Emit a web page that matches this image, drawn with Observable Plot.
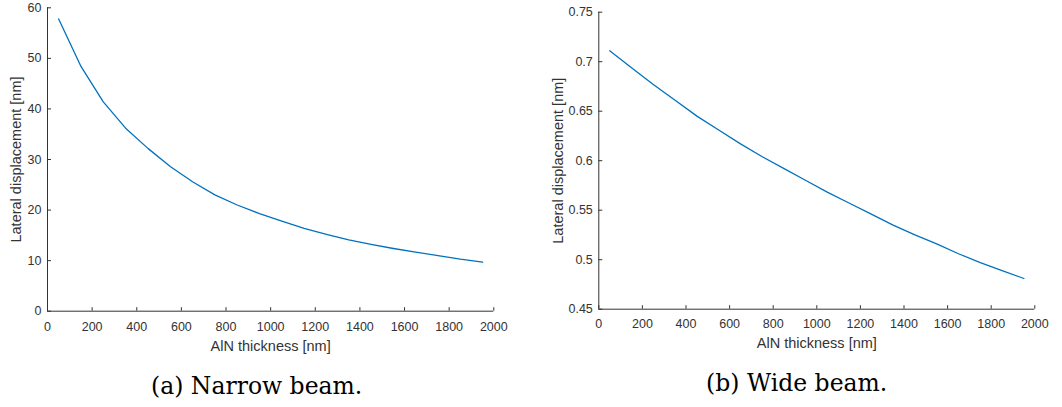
<!DOCTYPE html>
<html><head><meta charset="utf-8">
<script src="https://cdn.jsdelivr.net/npm/d3@7"></script>
<script src="https://cdn.jsdelivr.net/npm/@observablehq/plot@0.6"></script>
<style>
html,body{margin:0;padding:0;background:#fff;}
#wrap{position:relative;width:1062px;height:407px;overflow:hidden;background:#fff;}
.panel{position:absolute;top:0;}
.cap{position:absolute;font-family:"DejaVu Serif",serif;font-size:23.5px;line-height:1;color:#000;white-space:nowrap;transform:translateX(-50%);}
</style></head><body>
<div id="wrap">
  <div class="panel" id="a" style="left:0px"></div>
  <div class="panel" id="b" style="left:530px"></div>
  <div class="cap" id="capA" style="left:256.7px;top:375px"></div>
  <div class="cap" id="capB" style="left:796.7px;top:371.8px"></div>
</div>
<script>
// AlN thickness samples [nm]
const thickness = [50,150,250,350,450,550,650,750,850,950,1050,1150,1250,1350,1450,1550,1650,1750,1850,1950];
// (a) narrow beam lateral displacement [nm]
const narrowDisp = [57.8,48.4,41.4,36.2,32.2,28.6,25.6,23.0,21.0,19.3,17.8,16.4,15.2,14.1,13.2,12.4,11.7,11.0,10.3,9.7];
// (b) wide beam lateral displacement [nm]
const wideDisp = [0.711,0.694,0.677,0.661,0.645,0.631,0.617,0.604,0.592,0.580,0.568,0.557,0.546,0.535,0.525,0.516,0.506,0.497,0.489,0.481];

const xTicks = [0,200,400,600,800,1000,1200,1400,1600,1800,2000];
const narrowYTicks = [0,10,20,30,40,50,60];
const wideYTicks = [0.45,0.5,0.55,0.6,0.65,0.7,0.75];
const xLabel = "AlN thickness [nm]";
const yLabel = "Lateral displacement [nm]";
const captions = ["(a) Narrow beam.", "(b) Wide beam."];

const lineColor = "#0072BD";
const axisColor = "#333333";

function panel({values, yTicks, width, marginLeft, marginRight, marginTop, marginBottom, xTickPad, xLabelDy, yLabelDx}) {
  const data = thickness.map((t, i) => ({t, v: values[i]}));
  const xDomain = [xTicks[0], xTicks[xTicks.length - 1]];
  const yDomain = [yTicks[0], yTicks[yTicks.length - 1]];
  return Plot.plot({
    width, height: 360, marginLeft, marginRight, marginTop, marginBottom,
    style: {fontFamily: "'Liberation Sans', Arial, sans-serif", fontSize: "12.5px", color: axisColor, background: "white", overflow: "visible"},
    x: {domain: xDomain},
    y: {domain: yDomain},
    marks: [
      Plot.ruleX([xDomain[0]], {stroke: axisColor, strokeWidth: 1}),
      Plot.ruleY([yDomain[0]], {stroke: axisColor, strokeWidth: 1}),
      // inward-pointing ticks (MATLAB style)
      Plot.axisX({ticks: xTicks, tickSize: 3.5, dy: -3.5, text: null, label: null, stroke: axisColor}),
      Plot.axisY({ticks: yTicks, tickSize: 4, dx: 4, text: null, label: null, stroke: axisColor}),
      Plot.axisX({ticks: xTicks, tickSize: 0, tickPadding: xTickPad, tickFormat: d => String(d), label: null, fill: axisColor}),
      Plot.axisY({ticks: yTicks, tickSize: 0, tickPadding: 6, tickFormat: d => String(d), label: null, fill: axisColor}),
      Plot.text([xLabel], {frameAnchor: "bottom", dy: xLabelDy, lineAnchor: "middle", fontSize: 14.5, fill: axisColor, text: d => d}),
      Plot.text([yLabel], {frameAnchor: "left", dx: yLabelDx, rotate: -90, lineAnchor: "middle", textAnchor: "middle", fontSize: 14.5, fill: axisColor, text: d => d}),
      Plot.line(data, {x: "t", y: "v", stroke: lineColor, strokeWidth: 1.3})
    ]
  });
}

document.getElementById("a").append(panel({
  values: narrowDisp, yTicks: narrowYTicks, width: 530,
  marginLeft: 47, marginRight: 36.7, marginTop: 7.3, marginBottom: 49.3,
  xTickPad: 10.8, xLabelDy: 35, yLabelDx: -31
}));
document.getElementById("b").append(panel({
  values: wideDisp, yTicks: wideYTicks, width: 532,
  marginLeft: 68.3, marginRight: 27.7, marginTop: 11.7, marginBottom: 51.3,
  xTickPad: 10.1, xLabelDy: 34, yLabelDx: -40.3
}));
document.getElementById("capA").textContent = captions[0];
document.getElementById("capB").textContent = captions[1];
</script>
</body></html>
